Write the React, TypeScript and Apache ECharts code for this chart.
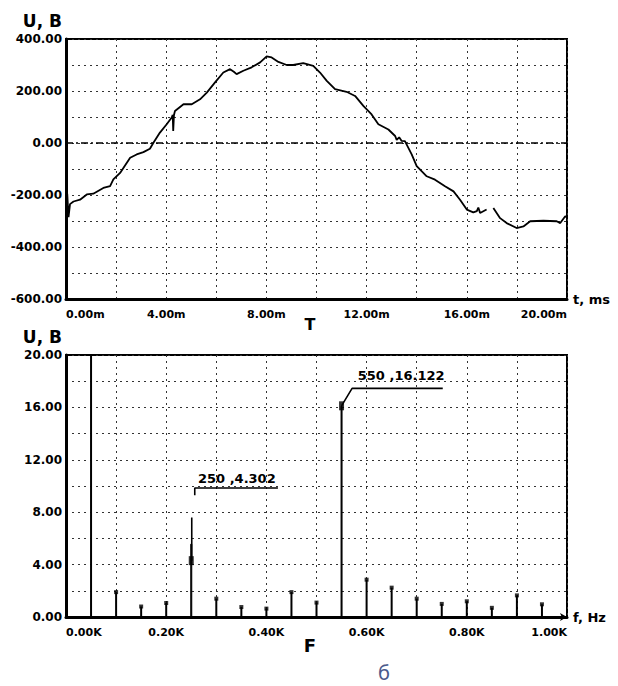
import React, { useEffect, useRef } from 'react';
import * as echarts from 'echarts';

// ---- Waveform (top chart) ----
const timeMs = [
  0, 0.05, 0.1, 0.16, 0.3, 0.56, 0.83, 1.09, 1.49, 1.76, 1.89, 2.16, 2.56, 2.82, 3.09, 3.35, 3.49, 3.75,
  4.02, 4.22, 4.26, 4.28, 4.31, 4.35, 4.69, 5.02, 5.35, 5.62, 5.95, 6.28, 6.55, 6.7, 6.81, 7.08, 7.41,
  7.75, 8.01, 8.21, 8.48, 8.81, 9.07, 9.47, 9.87, 10.14, 10.41, 10.74, 11.2, 11.54, 11.87, 12.2, 12.47,
  12.87, 13.14, 13.2, 13.3, 13.4, 13.53, 13.8, 14.0, 14.4, 14.73, 15.13, 15.47, 15.73, 16.0, 16.26,
  16.4, 16.46, 16.53, 16.79, 16.92, 17.06, 17.33, 17.59, 17.99, 18.26, 18.53, 19.06, 19.59, 19.73,
  19.93, 20,
];
const voltage: (number | null)[] = [
  -297, -195, -285, -235, -225, -218, -198, -195, -173, -166, -140, -115, -57, -44, -35, -22, 1, 40,
  72, 98, 108, 46, 108, 123, 149, 149, 168, 194, 233, 271, 284, 274, 265, 278, 291,
  310, 333, 329, 312, 300, 300, 307, 297, 271, 239, 207, 197, 181, 143, 110, 72,
  52, 27, 12, 22, 8, 7, -44, -89, -128, -141, -166, -186, -218, -256, -267,
  -262, -248, -269, -256, null, -250, -289, -308, -327, -321, -301, -299, -301, -308,
  -282, -286,
];

// ---- Spectrum (bottom chart) ----
const freqHz = [50, 100, 150, 200, 250, 300, 350, 400, 450, 500, 550, 600, 650, 700, 750, 800, 850, 900, 950];
const amplitude = [20, 1.9, 0.8, 1.07, 5.6, 1.4, 0.76, 0.64, 1.9, 1.1, 16.122, 2.85, 2.24, 1.4, 1.0, 1.2, 0.7, 1.65, 0.97];
const thickFreq = [250, 550];

// cursor read-outs
const cursorFreq = [250, 550];
const cursorAmp = [4.302, 16.122];
const cursorText = ['250 ,4.302', '550 ,16.122'];
const cursorTextPos = [[341, 10.6], [669, 18.4]];
const leaderA = [[251, 4.302], [251, 7.6]];
const leaderB = [[257, 9.3], [257, 9.85], [423, 9.85]];
const leaderC = [[550, 16.122], [571, 17.45], [752, 17.45]];

const FONT = 'DejaVu Sans';

const labelStyle = {
  color: '#000',
  fontFamily: FONT,
  fontWeight: 'bold' as const,
  fontSize: 12,
};

const splitStyle = { show: true, lineStyle: { color: '#333', type: [2, 4] as number[], width: 1 } };

export default function App() {
  const ref = useRef<HTMLDivElement>(null);

  useEffect(() => {
    if (!ref.current) return;
    const chart = echarts.init(ref.current, undefined, { renderer: 'svg' });

    const option: any = {
      animation: false,
      backgroundColor: '#fff',
      grid: [
        { left: 66, top: 39, width: 501, height: 260, show: true, borderColor: '#000', borderWidth: 2 },
        { left: 66, top: 355, width: 501, height: 262, show: true, borderColor: '#000', borderWidth: 2 },
      ],
      xAxis: [
        {
          gridIndex: 0, type: 'value', min: 0, max: 20, interval: 2,
          axisLine: { show: true, onZero: false, lineStyle: { color: '#000', width: 3 } },
          axisTick: { show: false },
          axisLabel: {
            ...labelStyle, fontSize: 11, margin: 10,
            alignMinLabel: 'left', alignMaxLabel: 'right',
            formatter: (v: number) => (v % 4 === 0 ? v.toFixed(2) + 'm' : ''),
          },
          splitLine: splitStyle,
          name: 't, ms', nameLocation: 'end', nameGap: 6,
          nameTextStyle: { ...labelStyle, fontSize: 13 },
        },
        {
          gridIndex: 1, type: 'value', min: 0, max: 1000, interval: 100,
          axisLine: {
            show: true, onZero: false, symbol: ['none', 'arrow'], symbolSize: [6, 7],
            lineStyle: { color: '#000', width: 3 },
          },
          axisTick: { show: false },
          axisLabel: {
            ...labelStyle, fontSize: 11, margin: 10,
            alignMinLabel: 'left', alignMaxLabel: 'right',
            formatter: (v: number) => (v % 200 === 0 ? (v / 1000).toFixed(2) + 'K' : ''),
          },
          splitLine: splitStyle,
          name: 'f, Hz', nameLocation: 'end', nameGap: 6,
          nameTextStyle: { ...labelStyle, fontSize: 13 },
        },
      ],
      yAxis: [
        {
          gridIndex: 0, type: 'value', min: -600, max: 400, interval: 100,
          axisLine: { show: true, onZero: false, lineStyle: { color: '#000', width: 3 } },
          axisTick: { show: false },
          axisLabel: {
            ...labelStyle, margin: 4,
            formatter: (v: number) => (v % 200 === 0 ? v.toFixed(2) : ''),
          },
          splitLine: splitStyle,
          name: 'U, B', nameLocation: 'end', nameGap: 10,
          nameTextStyle: { ...labelStyle, fontSize: 17, align: 'right', padding: [0, 4, 0, 0] },
        },
        {
          gridIndex: 1, type: 'value', min: 0, max: 20, interval: 2,
          axisLine: { show: true, onZero: false, lineStyle: { color: '#000', width: 3 } },
          axisTick: { show: false },
          axisLabel: {
            ...labelStyle, margin: 4,
            formatter: (v: number) => (v % 4 === 0 ? v.toFixed(2) : ''),
          },
          splitLine: splitStyle,
          name: 'U, B', nameLocation: 'end', nameGap: 10,
          nameTextStyle: { ...labelStyle, fontSize: 17, align: 'right', padding: [0, 4, 0, 0] },
        },
      ],
      series: [
        {
          type: 'line', xAxisIndex: 0, yAxisIndex: 0,
          data: timeMs.map((t, i) => [t, voltage[i] === null ? '-' : voltage[i]]),
          showSymbol: false, connectNulls: false,
          lineStyle: { color: '#000', width: 1.8 },
          markLine: {
            silent: true, symbol: 'none', label: { show: false },
            lineStyle: { color: '#000', type: [7, 3, 2, 3], width: 1.5 },
            data: [{ yAxis: 0 }],
          },
        },
        {
          type: 'bar', xAxisIndex: 1, yAxisIndex: 1, barWidth: 2,
          data: freqHz.map((f, i) => ({
            value: [f, amplitude[i]],
            itemStyle: thickFreq.includes(f)
              ? { color: '#000', borderColor: '#000', borderWidth: 1 }
              : { color: '#000' },
          })),
        },
        {
          type: 'scatter', xAxisIndex: 1, yAxisIndex: 1, symbol: 'rect', symbolSize: [4, 4],
          itemStyle: { color: '#000' },
          data: freqHz.map((f, i) => [f, amplitude[i]]).filter((d) => d[1] < 20 && !thickFreq.includes(d[0])),
        },
        {
          type: 'scatter', xAxisIndex: 1, yAxisIndex: 1, symbol: 'rect', symbolSize: [5, 9],
          itemStyle: { color: '#000' },
          data: cursorFreq.map((f, i) => [f, cursorAmp[i]]),
        },
        ...[leaderA, leaderB, leaderC].map((d) => ({
          type: 'line', xAxisIndex: 1, yAxisIndex: 1, data: d, showSymbol: false, symbol: 'none',
          lineStyle: { color: '#000', width: 1.6 },
        })),
        {
          type: 'scatter', xAxisIndex: 1, yAxisIndex: 1, symbolSize: 1,
          itemStyle: { color: 'transparent' },
          data: cursorTextPos.map((p, i) => ({
            value: p,
            label: {
              show: true, position: 'inside', formatter: cursorText[i],
              ...labelStyle, fontSize: 13, textBorderWidth: 0, opacity: 1,
            },
          })),
        },
      ],
      graphic: [
        { type: 'text', x: 310, y: 324, style: { text: 'T', font: 'bold 16px "DejaVu Sans"', fill: '#000', align: 'center', verticalAlign: 'middle' } },
        { type: 'text', x: 310, y: 645, style: { text: 'F', font: 'bold 18px "DejaVu Sans"', fill: '#000', align: 'center', verticalAlign: 'middle' } },
        { type: 'text', x: 384, y: 672, style: { text: 'б', font: '20px "Noto Sans"', fill: '#4a5a8c', align: 'center', verticalAlign: 'middle' } },
      ],
    };

    chart.setOption(option);
    return () => chart.dispose();
  }, []);

  return (
    <div
      ref={ref}
      style={{ position: 'fixed', left: 0, top: 0, width: 618, height: 686, background: '#fff' }}
    />
  );
}
